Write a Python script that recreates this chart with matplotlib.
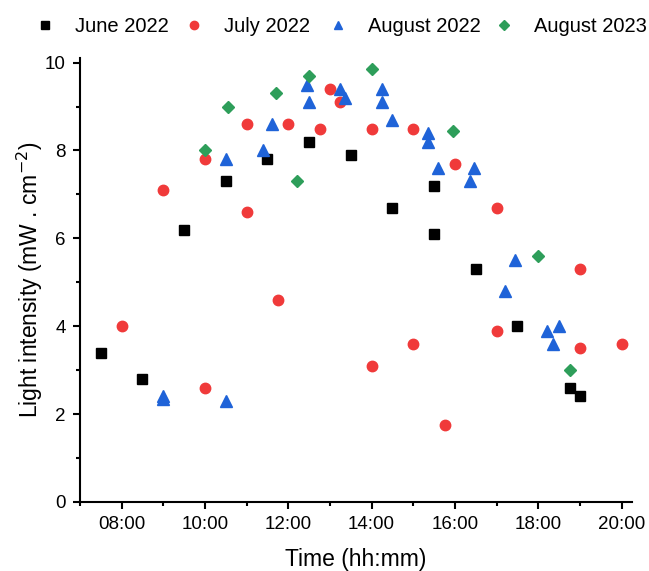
import matplotlib
matplotlib.use("Agg")
import matplotlib.pyplot as plt
from matplotlib.ticker import MultipleLocator, FuncFormatter

plt.rcParams['font.family'] = ['Liberation Sans', 'DejaVu Sans']

# Time in decimal hours, light intensity in mW/cm2
june22_t = [7.5, 8.5, 9.5, 10.5, 11.5, 12.5, 13.5, 14.5, 15.5, 15.5, 16.5, 17.5, 18.75, 19.0]
june22_v = [3.4, 2.8, 6.2, 7.3, 7.8, 8.2, 7.9, 6.7, 7.2, 6.1, 5.3, 4.0, 2.6, 2.4]

july22_t = [8.0, 9.0, 10.0, 10.0, 11.0, 11.0, 11.75, 12.0, 12.75, 13.0, 13.25, 14.0, 14.0,
            15.0, 15.0, 15.75, 16.0, 17.0, 17.0, 19.0, 19.0, 20.0]
july22_v = [4.0, 7.1, 7.8, 2.6, 8.6, 6.6, 4.6, 8.6, 8.5, 9.4, 9.1, 8.5, 3.1,
            8.5, 3.6, 1.75, 7.7, 6.7, 3.9, 5.3, 3.5, 3.6]

aug22_t = [9.0, 9.0, 10.5, 10.5, 11.4, 11.6, 12.45, 12.5, 13.25, 13.35, 14.25, 14.25, 14.5,
           15.35, 15.35, 15.6, 16.35, 16.45, 17.2, 17.45, 18.2, 18.35, 18.5]
aug22_v = [2.4, 2.35, 2.3, 7.8, 8.0, 8.6, 9.5, 9.1, 9.4, 9.2, 9.4, 9.1, 8.7,
           8.4, 8.2, 7.6, 7.3, 7.6, 4.8, 5.5, 3.9, 3.6, 4.0]

aug23_t = [10.0, 10.55, 11.7, 12.2, 12.5, 14.0, 15.95, 18.0, 18.75]
aug23_v = [8.0, 9.0, 9.3, 7.3, 9.7, 9.85, 8.45, 5.6, 3.0]

fig = plt.figure(figsize=(6.49, 5.71), dpi=100)
ax = fig.add_axes([0.123, 0.121, 0.851, 0.777])

h1, = ax.plot(june22_t, june22_v, 's', color='black', ms=7, label='June 2022')
h2, = ax.plot(july22_t, july22_v, 'o', color='#F03A3A', ms=7.5, label='July 2022')
h3, = ax.plot(aug22_t, aug22_v, '^', color='#1F63D8', ms=8, label='August 2022')
h4, = ax.plot(aug23_t, aug23_v, 'D', color='#2E9E5A', ms=6.5, label='August 2023')

ax.set_xlim(7.0, 20.25)
ax.set_ylim(0, 10.1)
ax.xaxis.set_major_locator(MultipleLocator(2))
ax.xaxis.set_minor_locator(MultipleLocator(1))
ax.yaxis.set_major_locator(MultipleLocator(2))
ax.yaxis.set_minor_locator(MultipleLocator(1))
ax.xaxis.set_major_formatter(FuncFormatter(lambda v, p: f"{int(v):02d}:00"))
ax.yaxis.set_major_formatter(FuncFormatter(lambda v, p: f"{int(v)}"))

for s in ['top', 'right']:
    ax.spines[s].set_visible(False)
for s in ['left', 'bottom']:
    ax.spines[s].set_linewidth(1.5)
ax.tick_params(which='major', length=5, width=1.5, labelsize=13.5, pad=5)
ax.tick_params(which='minor', length=3, width=1.5)

ax.set_xlabel("Time (hh:mm)", fontsize=16.5, labelpad=11)
ax.set_ylabel("Light intensity (mW . cm$^{-2}$)", fontsize=16.5, labelpad=0)

# legend entries placed one by one along the top
for h, x0 in zip([h1, h2, h3, h4], [35, 184, 328, 494]):
    fig.legend(handles=[h], loc='center left', bbox_to_anchor=(x0 / 649, 0.953),
               frameon=False, fontsize=14.5, markerscale=0.8, handlelength=1.0,
               handletextpad=1.0, borderpad=0, borderaxespad=0)

fig.savefig("out.png", dpi=100)
